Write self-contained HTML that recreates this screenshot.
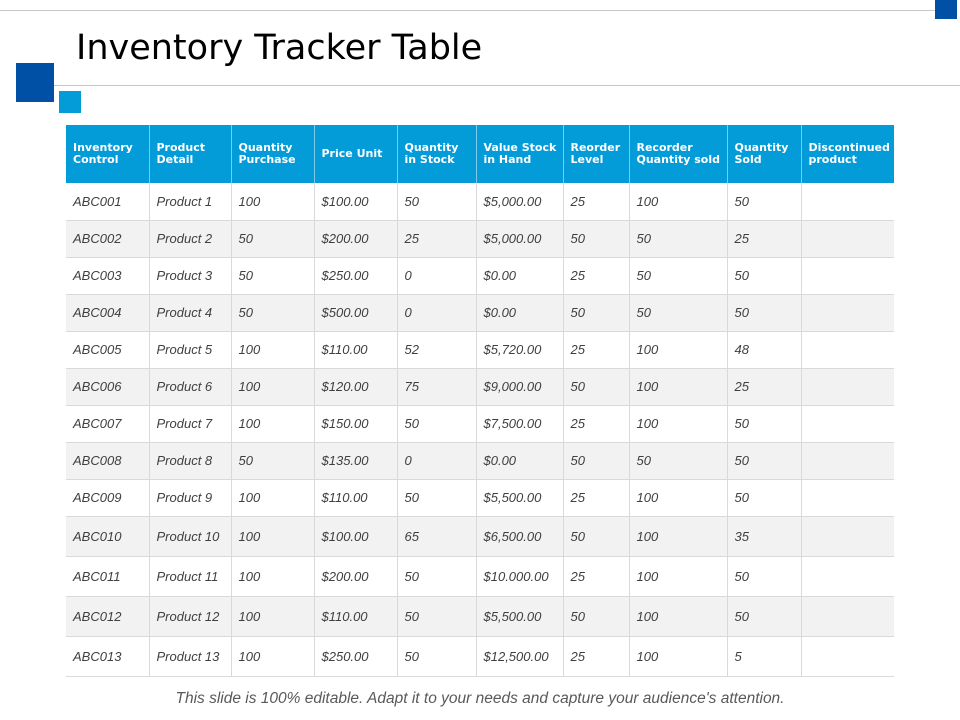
<!DOCTYPE html>
<html><head><meta charset="utf-8"><style>
body{margin:0;width:960px;height:720px;position:relative;background:#fff;overflow:hidden;font-family:"Liberation Sans",sans-serif}
.abs{position:absolute}
table{position:absolute;left:66px;top:125px;border-collapse:collapse;table-layout:fixed;width:828px}
th{background:#039bd8;color:#fff;font-family:"DejaVu Sans",sans-serif;font-weight:bold;font-size:11px;line-height:12px;text-align:left;padding:0 0 0 7px;height:58px;border-left:1px solid #7fc9ec;vertical-align:middle}
th:first-child{border-left:none}
td{font-style:italic;font-size:13px;color:#404040;padding:0 0 0 7px;border:1px solid #d9d9d9;border-top:none;vertical-align:middle;white-space:nowrap}
td:first-child{border-left:none}td:last-child{border-right:none}
tr.alt td{background:#f2f2f2}
</style></head><body>
<div class="abs" style="left:0;top:10px;width:935px;height:1px;background:#c8c8c8"></div>
<div class="abs" style="left:935px;top:0;width:22px;height:19px;background:#0050a5"></div>
<div class="abs" style="left:76px;top:26px;font-family:'DejaVu Sans',sans-serif;font-size:35px;color:#000;line-height:44px">Inventory Tracker Table</div>
<div class="abs" style="left:53px;top:85px;width:907px;height:1px;background:#c8c8c8"></div>
<div class="abs" style="left:16px;top:63px;width:38px;height:39px;background:#0050a5"></div>
<div class="abs" style="left:59px;top:91px;width:22px;height:22px;background:#039bd8"></div>
<table>
<colgroup><col style="width:83px"><col style="width:82px"><col style="width:83px"><col style="width:83px"><col style="width:79px"><col style="width:87px"><col style="width:66px"><col style="width:98px"><col style="width:74px"><col style="width:93px"></colgroup>
<thead><tr><th>Inventory<br>Control</th><th>Product<br>Detail</th><th>Quantity<br>Purchase</th><th>Price Unit</th><th>Quantity<br>in Stock</th><th>Value Stock<br>in Hand</th><th>Reorder<br>Level</th><th>Recorder<br>Quantity sold</th><th>Quantity<br>Sold</th><th>Discontinued<br>product</th></tr></thead>
<tbody id="tb"></tbody></table>
<div class="abs" style="left:0;width:960px;top:690px;text-align:center;font-style:italic;font-size:15.5px;color:#595959">This slide is 100% editable. Adapt it to your needs and capture your audience's attention.</div>
<script>
const rows=[
["ABC001","Product 1","100","$100.00","50","$5,000.00","25","100","50"],
["ABC002","Product 2","50","$200.00","25","$5,000.00","50","50","25"],
["ABC003","Product 3","50","$250.00","0","$0.00","25","50","50"],
["ABC004","Product 4","50","$500.00","0","$0.00","50","50","50"],
["ABC005","Product 5","100","$110.00","52","$5,720.00","25","100","48"],
["ABC006","Product 6","100","$120.00","75","$9,000.00","50","100","25"],
["ABC007","Product 7","100","$150.00","50","$7,500.00","25","100","50"],
["ABC008","Product 8","50","$135.00","0","$0.00","50","50","50"],
["ABC009","Product 9","100","$110.00","50","$5,500.00","25","100","50"],
["ABC010","Product 10","100","$100.00","65","$6,500.00","50","100","35"],
["ABC011","Product 11","100","$200.00","50","$10.000.00","25","100","50"],
["ABC012","Product 12","100","$110.00","50","$5,500.00","50","100","50"],
["ABC013","Product 13","100","$250.00","50","$12,500.00","25","100","5"]];
const tb=document.getElementById('tb');
rows.forEach((r,i)=>{const tr=document.createElement('tr');


if(i%2)tr.className='alt';
tr.style.height=(i<9?37:40)+'px';
r.concat(['']).forEach(v=>{const td=document.createElement('td');td.textContent=v;


tr.appendChild(td);});tb.appendChild(tr);});
</script>
</body></html>
